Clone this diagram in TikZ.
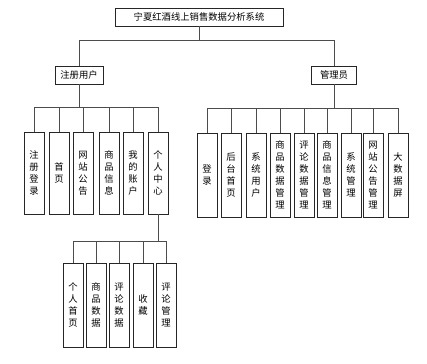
\documentclass[tikz,border=0pt]{standalone}
\usepackage{fontspec}
\newfontfamily\cjk{Noto Sans CJK SC}

\tikzset{
    box/.style={draw=black!85, font=\cjk\fontsize{7}{9}\selectfont, inner sep=0pt, align=center},
    head/.style={box, minimum height=13.5pt},
    leaf/.style={box, minimum width=15pt, minimum height=63pt},
    link/.style={draw=black!70}
}

\begin{document}
\begin{tikzpicture}[x=0.75pt, y=-0.75pt, line width=0.6pt]
    \useasboundingbox (0,0) rectangle (427,363);

    % top levels
    \node[head, minimum width=126pt] (sys) at (199,17) {宁夏红酒线上销售数据分析系统};
    \node[head, minimum width=36pt] (reg) at (79,75) {注册用户};
    \node[head, minimum width=34pt] (adm) at (334,75) {管理员};

    \draw[link] (sys.south) -- ++(0,14) coordinate (sysj);
    \draw[link] (sysj) -| (reg.north);
    \draw[link] (sysj) -| (adm.north);

    % registered user
    \foreach \id/\x/\txt in {u1/34/{注\\册\\登\\录}, u2/59/{首\\页},
                             u3/83/{网\\站\\公\\告}, u4/109/{商\\品\\信\\息},
                             u5/133/{我\\的\\账\\户}, u6/158/{个\\人\\中\\心}} {
        \node[leaf, minimum height=61.5pt] (\id) at (\x,173) {\txt};
        \draw[link] (reg.south) -- ++(0,23) -| (\id.north);
    }

    % personal centre
    \foreach \id/\x/\txt in {c1/73/{个\\人\\首\\页}, c2/96/{商\\品\\数\\据},
                             c3/119/{评\\论\\数\\据}, c4/143/{收\\藏},
                             c5/166/{评\\论\\管\\理}} {
        \node[leaf] (\id) at (\x,305) {\txt};
        \draw[link] (u6.south) -- ++(0,27) -| (\id.north);
    }

    % administrator
    \foreach \id/\x/\txt in {a1/207/{登\\录}, a2/231/{后\\台\\首\\页},
                             a3/256/{系\\统\\用\\户}, a4/280/{商\\品\\数\\据\\管\\理},
                             a5/304/{评\\论\\数\\据\\管\\理}, a6/327/{商\\品\\信\\息\\管\\理},
                             a7/351/{系\\统\\管\\理}, a8/373/{网\\站\\公\\告\\管\\理},
                             a9/398/{大\\数\\据\\屏}} {
        \node[leaf] (\id) at (\x,175) {\txt};
        \draw[link] (adm.south) -- ++(0,24) -| (\id.north);
    }
\end{tikzpicture}
\end{document}
